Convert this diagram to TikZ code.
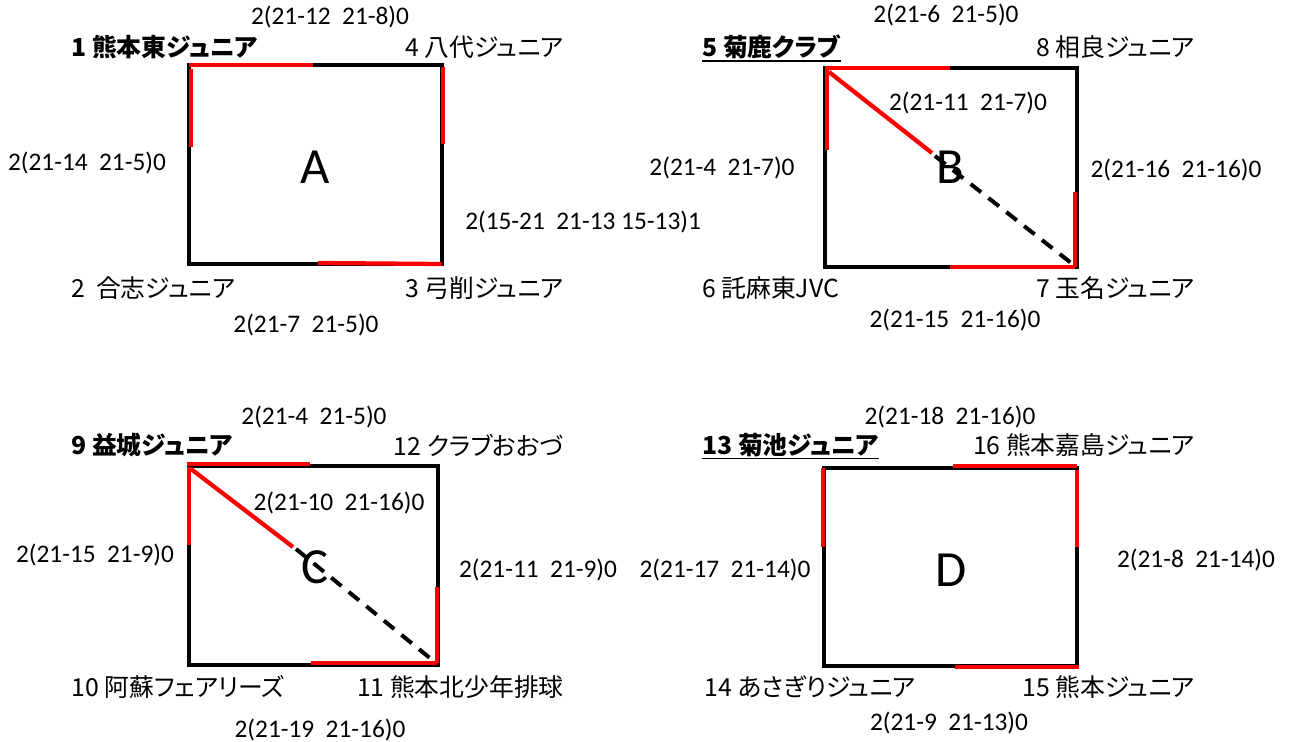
\documentclass[tikz,border=0pt]{standalone}
\usepackage{fontspec}
\setmainfont{Carlito}
\newfontfamily\jp{Noto Sans CJK JP}[RawFeature=+palt]
\begin{document}
\begin{tikzpicture}[x=0.75pt,y=-0.75pt,
  team/.style={font=\jp\fontsize{18.6pt}{22pt}\selectfont, inner sep=0pt},
  bteam/.style={font=\jp\bfseries\fontsize{18.6pt}{22pt}\selectfont, inner sep=0pt},
  score/.style={font=\fontsize{19pt}{22pt}\selectfont, inner sep=0pt},
  big/.style={font=\fontsize{38pt}{40pt}\selectfont, inner sep=0pt},
  frame/.style={draw=black, line width=2.4pt},
  win/.style={draw=red, line width=3.2pt},
  lose/.style={draw=black, line width=3pt, dash pattern=on 10pt off 7pt},
  uline/.style={draw=black, line width=1.3pt}]
\useasboundingbox (0,0) rectangle (1289,742);

% ---------- Box A ----------
\coordinate (A1) at (189,65);  \coordinate (A4) at (442,65);
\coordinate (A2) at (189,264); \coordinate (A3) at (442,264);
\draw[frame] (A1) -- (A4) -- (A3) -- (A2) -- cycle;
\draw[win] (A1) -- (313,65);
\draw[win] (191,69) -- (191,147);
\draw[win] (443,67) -- (443,144);
\draw[win] (318,263) -- (A3);
\node[big] (lA) at (315,167) {A};
\node[bteam, anchor=west] (t1) at (71,47) {1 熊本東ジュニア};
\node[team, anchor=east] (t4) at (564,47) {4 八代ジュニア};
\node[team, anchor=west] (t2) at (71,288) {2\ \ 合志ジュニア};
\node[team, anchor=east] (t3) at (564,288) {3 弓削ジュニア};
\node[score] (sA1) at (330,17) {2(21-12\ \ 21-8)0};
\node[score] (sA2) at (87,163) {2(21-14\ \ 21-5)0};
\node[score, anchor=west] (sA3) at (465,222) {2(15-21\ \ 21-13 15-13)1};
\node[score] (sA4) at (306,325) {2(21-7\ \ 21-5)0};

% ---------- Box B ----------
\coordinate (B5) at (825,68);  \coordinate (B8) at (1077,68);
\coordinate (B6) at (825,267); \coordinate (B7) at (1077,267);
\draw[frame] (B5) -- (B8) -- (B7) -- (B6) -- cycle;
\draw[win] (B5) -- (950,68);
\draw[win] (827,70) -- (827,150);
\draw[win] (829,72) -- (932,153);
\draw[lose] (935,156) -- (1075,266);
\draw[win] (1075,192) -- (1075,267);
\draw[win] (950,267) -- (1075,267);
\node[big] (lB) at (950,167) {B};
\node[bteam, anchor=west] (t5) at (702,47) {5 菊鹿クラブ};
\draw[uline] ([yshift=-3pt]t5.base west) -- ([yshift=-3pt]t5.base east);
\node[team, anchor=east] (t8) at (1195,47) {8 相良ジュニア};
\node[team, anchor=west] (t6) at (702,288) {6 託麻東JVC};
\node[team, anchor=east] (t7) at (1195,288) {7 玉名ジュニア};
\node[score] (sB1) at (946,15) {2(21-6\ \ 21-5)0};
\node[score] (sB2) at (968,103) {2(21-11\ \ 21-7)0};
\node[score] (sB3) at (722,168) {2(21-4\ \ 21-7)0};
\node[score] (sB4) at (1176,170) {2(21-16\ \ 21-16)0};
\node[score] (sB5) at (955,320) {2(21-15\ \ 21-16)0};

% ---------- Box C ----------
\coordinate (C9) at (189,466);  \coordinate (C12) at (438,466);
\coordinate (C10) at (189,665); \coordinate (C11) at (438,665);
\draw[frame] (C9) -- (C12) -- (C11) -- (C10) -- cycle;
\draw[win] (187,464) -- (310,464);
\draw[win] (189,467) -- (189,545);
\draw[win] (191,469) -- (293,547);
\draw[lose] (296,549) -- (436,663);
\draw[win] (437,587) -- (437,663);
\draw[win] (311,663) -- (437,663);
\node[big] (lC) at (315,567) {C};
\node[bteam, anchor=west] (t9) at (71,445) {9 益城ジュニア};
\node[team, anchor=east] (t12) at (564,445) {12 クラブおおづ};
\node[team, anchor=west] (t10) at (71,687) {10 阿蘇フェアリーズ};
\node[team, anchor=east] (t11) at (564,687) {11 熊本北少年排球};
\node[score] (sC1) at (314,417) {2(21-4\ \ 21-5)0};
\node[score] (sC2) at (339,503) {2(21-10\ \ 21-16)0};
\node[score] (sC3) at (95,555) {2(21-15\ \ 21-9)0};
\node[score] (sC4) at (538,570) {2(21-11\ \ 21-9)0};
\node[score] (sC5) at (320,730) {2(21-19\ \ 21-16)0};

% ---------- Box D ----------
\coordinate (D13) at (824,468);  \coordinate (D16) at (1077,468);
\coordinate (D14) at (824,666);  \coordinate (D15) at (1077,666);
\draw[frame] (D13) -- (D16) -- (D15) -- (D14) -- cycle;
\draw[win] (953,466) -- (1077,466);
\draw[win] (823,468) -- (823,547);
\draw[win] (1077,470) -- (1077,547);
\draw[win] (955,667) -- (1079,667);
\node[big] (lD) at (951,570) {D};
\node[bteam, anchor=west] (t13) at (702,445) {13 菊池ジュニア};
\draw[uline] ([yshift=-3pt]t13.base west) -- ([yshift=-3pt]t13.base east);
\node[team, anchor=east] (t16) at (1195,445) {16 熊本嘉島ジュニア};
\node[team, anchor=west] (t14) at (704,687) {14 あさぎりジュニア};
\node[team, anchor=east] (t15) at (1195,687) {15 熊本ジュニア};
\node[score] (sD1) at (950,417) {2(21-18\ \ 21-16)0};
\node[score] (sD2) at (725,570) {2(21-17\ \ 21-14)0};
\node[score] (sD3) at (1196,560) {2(21-8\ \ 21-14)0};
\node[score] (sD4) at (949,723) {2(21-9\ \ 21-13)0};
\end{tikzpicture}
\end{document}
